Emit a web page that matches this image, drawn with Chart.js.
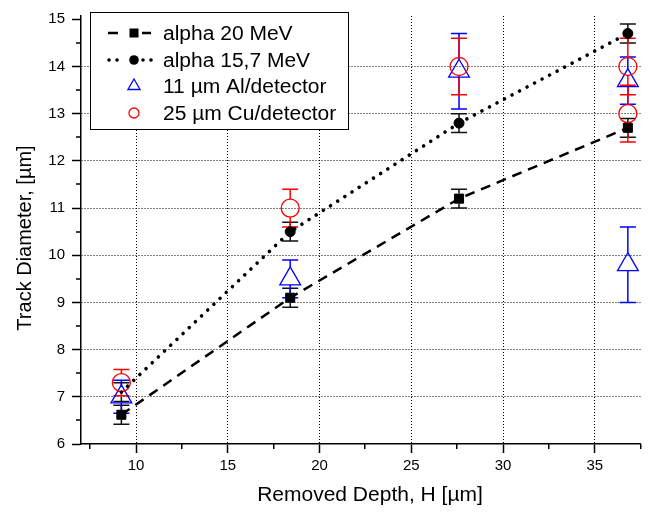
<!DOCTYPE html>
<html><head><meta charset="utf-8">
<script src="https://cdn.jsdelivr.net/npm/chart.js@4"></script>
<style>html,body{margin:0;padding:0;background:#fff;} #wrap{width:654px;height:514px;position:relative;}</style>
</head><body><div id="wrap"><canvas id="c"></canvas></div>
<script>
// ---- data ----
const depth = [9.2, 18.4, 27.6, 36.8];
const alpha20 = [6.62, 9.1, 11.2, 12.7];
const alpha20Err = [0.2, 0.2, 0.2, 0.2];
const alpha157 = [7.1, 10.5, 12.8, 14.7];
const alpha157Err = [0.2, 0.2, 0.2, 0.2];
const alDepth = [9.2, 18.4, 27.6, 36.8, 36.8];
const alDiam = [7.0, 9.5, 13.9, 13.7, 9.8];
const alErr = [0.35, 0.4, 0.8, 0.5, 0.8];
const cuDepth = [9.2, 18.4, 27.6, 36.8, 36.8];
const cuDiam = [7.3, 11.0, 14.0, 14.0, 13.0];
const cuErr = [0.28, 0.4, 0.6, 0.6, 0.6];
const xTicks = [10, 15, 20, 25, 30, 35];
const xMinorTicks = [7.5, 12.5, 17.5, 22.5, 27.5, 32.5, 37.5];
const yTicks = [6, 7, 8, 9, 10, 11, 12, 13, 14, 15];
const yMinorTicks = [6.5, 7.5, 8.5, 9.5, 10.5, 11.5, 12.5, 13.5, 14.5];
const seriesNames = ['alpha 20 MeV', 'alpha 15,7 MeV', '11 \u00B5m Al/detector', '25 \u00B5m Cu/detector'];
const xTitle = 'Removed Depth, H [\u00B5m]';
const yTitle = 'Track Diameter, [\u00B5m]';

const FONT = '"Liberation Sans", Arial, sans-serif';
const pts = (xs, ys) => xs.map((x, i) => ({x: x, y: ys[i]}));

const errorBars = {
  id: 'errorBars',
  beforeDatasetsDraw(chart) {
    const ctx = chart.ctx, xs = chart.scales.x, ys = chart.scales.y;
    chart.data.datasets.forEach((ds, i) => {
      if (!ds.errs) return;
      ctx.save();
      ctx.strokeStyle = ds.errColor;
      ctx.lineWidth = 1.5;
      ds.data.forEach((p, j) => {
        const px = xs.getPixelForValue(p.x);
        const py = ys.getPixelForValue(p.y);
        const t = ys.getPixelForValue(p.y + ds.errs[j]);
        const b = ys.getPixelForValue(p.y - ds.errs[j]);
        ctx.beginPath();
        ctx.moveTo(px, Math.max(t, py - ds.gapUp));
        ctx.lineTo(px, t);
        ctx.moveTo(px, Math.min(b, py + ds.gapDown));
        ctx.lineTo(px, b);
        ctx.moveTo(px - 8, t); ctx.lineTo(px + 8, t);
        ctx.moveTo(px - 8, b); ctx.lineTo(px + 8, b);
        ctx.stroke();
      });
      ctx.restore();
    });
  }
};

const extras = {
  id: 'extras',
  afterDraw(chart) {
    const ctx = chart.ctx, xs = chart.scales.x, ys = chart.scales.y, a = chart.chartArea;
    ctx.save();
    // minor ticks
    ctx.strokeStyle = '#000'; ctx.lineWidth = 1.5;
    ctx.beginPath();
    xMinorTicks.forEach(v => { const p = Math.round(xs.getPixelForValue(v)) - 0.25; ctx.moveTo(p, a.bottom); ctx.lineTo(p, a.bottom + 5); });
    yMinorTicks.forEach(v => { const p = Math.round(ys.getPixelForValue(v)); ctx.moveTo(a.left, p); ctx.lineTo(a.left - 5, p); });
    ctx.stroke();
    // axis titles
    ctx.fillStyle = '#000';
    ctx.textAlign = 'center'; ctx.textBaseline = 'middle';
    ctx.font = '21px ' + FONT;
    ctx.fillText(xTitle, 370, 495);
    ctx.font = '20px ' + FONT;
    ctx.save();
    ctx.translate(25, 238);
    ctx.rotate(-Math.PI / 2);
    ctx.fillText(yTitle, 0, 0);
    ctx.restore();
    // legend
    ctx.fillStyle = '#fff';
    ctx.fillRect(90.5, 12.5, 258, 117);
    ctx.strokeStyle = '#000'; ctx.lineWidth = 1;
    ctx.strokeRect(90.5, 12.5, 258, 117);
    const rows = [33, 60, 86, 113];
    const mx = 134;
    // row 1: dashed + square
    ctx.lineWidth = 2.5; ctx.strokeStyle = '#000';
    ctx.beginPath();
    ctx.moveTo(108, rows[0]); ctx.lineTo(118, rows[0]);
    ctx.moveTo(142, rows[0]); ctx.lineTo(151, rows[0]);
    ctx.stroke();
    ctx.fillStyle = '#000';
    ctx.fillRect(mx - 4.5, rows[0] - 4.5, 9, 9);
    // row 2: dotted + circle
    [109, 117, 143, 151].forEach(x => { ctx.beginPath(); ctx.arc(x, rows[1], 1.8, 0, Math.PI * 2); ctx.fill(); });
    ctx.beginPath(); ctx.arc(mx, rows[1], 4.8, 0, Math.PI * 2); ctx.fill();
    // row 3: blue triangle
    ctx.strokeStyle = '#0000ff'; ctx.lineWidth = 1.3;
    ctx.beginPath();
    const r = 7;
    ctx.moveTo(mx, rows[2] - r);
    ctx.lineTo(mx + r * 0.866, rows[2] + r / 2);
    ctx.lineTo(mx - r * 0.866, rows[2] + r / 2);
    ctx.closePath(); ctx.stroke();
    // row 4: red circle
    ctx.strokeStyle = '#ff0000';
    ctx.beginPath(); ctx.arc(mx, rows[3], 5, 0, Math.PI * 2); ctx.stroke();
    // texts
    ctx.fillStyle = '#000';
    ctx.font = '20px ' + FONT;
    ctx.textAlign = 'left'; ctx.textBaseline = 'middle';
    seriesNames.forEach((s, i) => {
      ctx.save();
      ctx.translate(163, rows[i] + 1);
      ctx.scale(1.05, 1);
      ctx.fillText(s, 0, 0);
      ctx.restore();
    });
    ctx.restore();
  }
};

new Chart(document.getElementById('c'), {
  type: 'scatter',
  data: {
    datasets: [
      { label: seriesNames[0], data: pts(depth, alpha20), errs: alpha20Err, errColor: '#111', gapUp: 5, gapDown: 5,
        showLine: true, borderColor: '#000', borderWidth: 2.5, borderDash: [10, 7],
        pointStyle: 'rect', pointRadius: 6.4, pointHoverRadius: 6.4, pointBackgroundColor: '#000', pointBorderColor: '#000', pointBorderWidth: 1, order: 0 },
      { label: seriesNames[1], data: pts(depth, alpha157), errs: alpha157Err, errColor: '#111', gapUp: 5, gapDown: 5,
        showLine: true, borderColor: '#000', borderWidth: 3.6, borderDash: [0.01, 8.5], borderCapStyle: 'round',
        pointStyle: 'circle', pointRadius: [0, 5, 5, 5], pointHoverRadius: [0, 5, 5, 5], pointBackgroundColor: '#000', pointBorderColor: '#000', pointBorderWidth: 1, order: 1 },
      { label: seriesNames[2], data: pts(alDepth, alDiam), errs: alErr, errColor: '#0000ff', gapUp: 12, gapDown: 6,
        showLine: false, pointStyle: 'triangle', pointRadius: 12, pointHoverRadius: 12,
        pointBackgroundColor: 'rgba(0,0,0,0)', pointBorderColor: '#0000ff', pointBorderWidth: 1.3, order: 3 },
      { label: seriesNames[3], data: pts(cuDepth, cuDiam), errs: cuErr, errColor: '#ff0000', gapUp: 9, gapDown: 9,
        showLine: false, pointStyle: 'circle', pointRadius: 9, pointHoverRadius: 9,
        pointBackgroundColor: 'rgba(0,0,0,0)', pointBorderColor: '#ff0000', pointBorderWidth: 1.3, order: 2 }
    ]
  },
  options: {
    responsive: true, maintainAspectRatio: false, animation: false,
    layout: { padding: { top: 13, right: 0, left: 0, bottom: 0 } },
    plugins: { legend: { display: false }, tooltip: { enabled: false } },
    scales: {
      x: {
        type: 'linear', min: 7, max: 37.5,
        afterFit(s) { s.height = 70; },
        afterBuildTicks(s) { s.ticks = xTicks.map(v => ({value: v})); },
        grid: { color: '#000', lineWidth: 1, tickLength: 9, tickColor: '#000', tickWidth: 1.5 },
        border: { display: true, color: '#000', width: 1.5, dash: [1, 2] },
        ticks: { font: { family: FONT, size: 15 }, color: '#000', padding: 4, maxRotation: 0, autoSkip: false }
      },
      y: {
        type: 'linear', min: 6, max: 15.07,
        afterFit(s) { s.width = 81; },
        afterBuildTicks(s) { s.ticks = yTicks.map(v => ({value: v})); },
        grid: { color: c => (c.tick && (c.tick.value === 6 || c.tick.value === 15)) ? 'rgba(0,0,0,0)' : '#000',
                lineWidth: 1, tickLength: 9, tickColor: '#000', tickWidth: 1.5 },
        border: { display: true, color: '#000', width: 1.5, dash: [1, 2] },
        ticks: { font: { family: FONT, size: 15 }, color: '#000', padding: 7, autoSkip: false }
      }
    }
  },
  plugins: [errorBars, extras]
});
</script>
</body></html>
